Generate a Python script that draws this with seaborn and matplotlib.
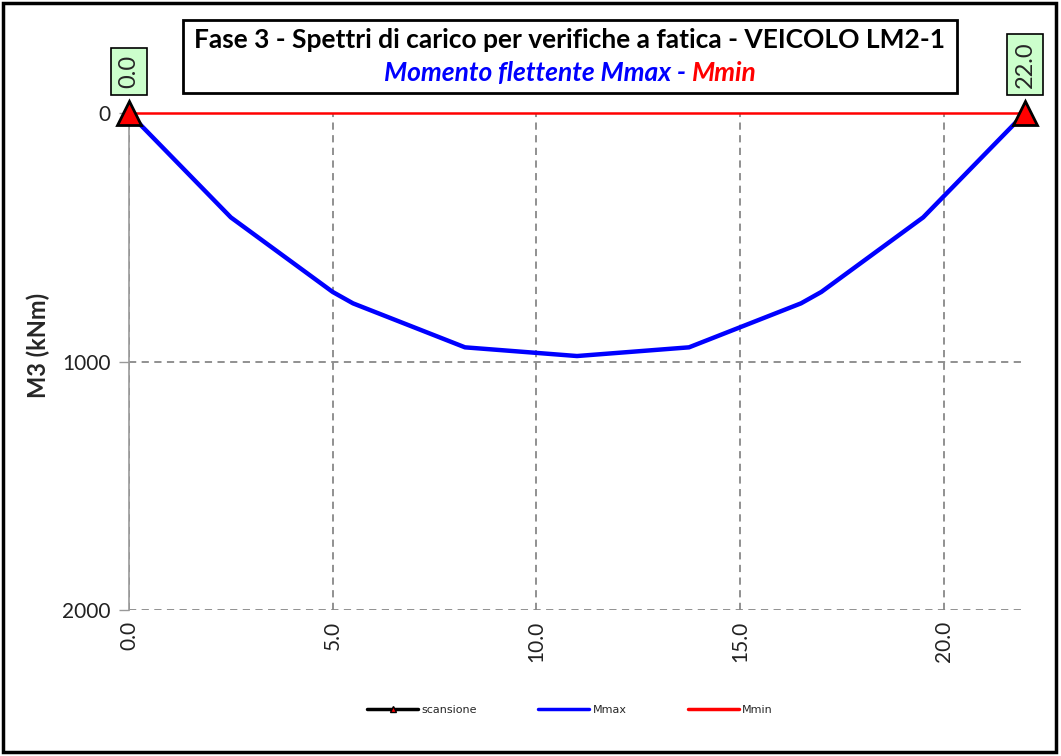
import matplotlib
matplotlib.use("Agg")
import matplotlib.pyplot as plt
from matplotlib.patches import Rectangle
from matplotlib.lines import Line2D
import seaborn as sns
import pandas as pd

# ---- data ----
x_pos = [0.0, 2.5, 5.0, 5.5, 8.25, 11.0, 13.75, 16.5, 17.0, 19.5, 22.0]
m_max = [0, 420, 720, 766, 943, 978, 943, 766, 720, 420, 0]
m_min = [0, 0, 0, 0, 0, 0, 0, 0, 0, 0, 0]
scan_x = [0.0, 22.0]
scan_y = [0, 0]
scan_labels = ["0.0", "22.0"]
x_ticks = [0, 5, 10, 15, 20]
x_ticklabels = ["0.0", "5.0", "10.0", "15.0", "20.0"]
y_ticks = [0, 1000, 2000]
y_ticklabels = ["0", "1000", "2000"]
title1 = "Fase 3 - Spettri di carico per verifiche a fatica - VEICOLO LM2-1"
title2a = "Momento flettente Mmax - "
title2b = "Mmin"
ylabel = "M3 (kNm)"
legend_labels = ["scansione", "Mmax", "Mmin"]

sns.set_style("white")
plt.rcParams['font.family'] = ['Lato', 'DejaVu Sans']

W, H = 1061, 756
fig = plt.figure(figsize=(W / 100, H / 100), dpi=100)
ax = fig.add_axes([129 / W, 1 - 610 / H, (1025 - 129) / W, (610 - 113) / H])

df = pd.DataFrame({"x": x_pos, "Mmax": m_max, "Mmin": m_min})

sns.lineplot(data=df, x="x", y="Mmax", color="#0000FF", lw=3.2, ax=ax,
             estimator=None, sort=False, zorder=4)
sns.lineplot(data=df, x="x", y="Mmin", color="#FF0000", lw=1.8, ax=ax,
             estimator=None, sort=False, zorder=5)
for ln in ax.get_lines():
    ln.set_clip_on(False)
ax.plot(scan_x, scan_y, linestyle="none", marker="^", markersize=17,
        markerfacecolor="#FF0000", markeredgecolor="black", markeredgewidth=2,
        zorder=6, clip_on=False)

for xv, lab in zip(scan_x, scan_labels):
    ax.annotate(lab, xy=(xv, 0), xytext=(0, 18), textcoords="offset points",
                rotation=90, ha="center", va="bottom", fontsize=17,
                annotation_clip=False,
                bbox=dict(boxstyle="square,pad=0.3", fc="#CCFFCC", ec="black", lw=1.2))

ax.set_xlim(0, 22)
ax.set_ylim(2000, 0)
ax.set_xticks(x_ticks)
ax.set_xticklabels(x_ticklabels, rotation=90, fontsize=15, color="#222222")
ax.set_yticks(y_ticks)
ax.set_yticklabels(y_ticklabels, fontsize=15, color="#222222")
ax.tick_params(axis="y", length=7, color="#999999", width=1, pad=6, left=True)
ax.tick_params(axis="x", length=0, pad=8)
ax.grid(True, linestyle=(0, (4, 3)), color="#888888", lw=1.3)
for s in ["top", "right", "bottom"]:
    ax.spines[s].set_visible(False)
ax.spines["left"].set_color("#999999")
ax.spines["left"].set_linewidth(1.2)
ax.set_xlabel("")
ax.set_ylabel(ylabel, fontsize=17, fontweight="bold", labelpad=4)
ax.yaxis.set_label_coords(-0.088, 0.533)

# title box
fig.patches.append(Rectangle((183 / W, 1 - 93 / H), (957 - 183) / W, (93 - 20) / H,
                             transform=fig.transFigure, fill=False, ec="black", lw=2))
fig.text(570 / W, 1 - 40 / H, title1, ha="center", va="center", fontsize=19,
         fontweight="bold", color="black")
t2a = fig.text(0, 1 - 73 / H, title2a, ha="left", va="center", fontsize=19,
               fontweight="bold", style="italic", color="#0000FF")
t2b = fig.text(0, 1 - 73 / H, title2b, ha="left", va="center", fontsize=19,
               fontweight="bold", style="italic", color="#FF0000")
fig.canvas.draw()
r = fig.canvas.get_renderer()
w1 = t2a.get_window_extent(r).width
w2 = t2b.get_window_extent(r).width
start = 570 - (w1 + w2) / 2
t2a.set_x(start / W)
t2b.set_x((start + w1) / W)

# outer border
fig.patches.append(Rectangle((3 / W, 4 / H), (1056 - 3) / W, (753 - 4) / H,
                             transform=fig.transFigure, fill=False, ec="black", lw=2.5))

# legend
handles = [
    Line2D([], [], color="black", lw=2.5, marker="^", markersize=5,
           markerfacecolor="#FF0000", markeredgecolor="black"),
    Line2D([], [], color="#0000FF", lw=2.5),
    Line2D([], [], color="#FF0000", lw=2.5),
]
fig.legend(handles, legend_labels, loc="center", bbox_to_anchor=(570 / W, 1 - 710 / H),
           ncol=3, frameon=False, handlelength=4.6, columnspacing=5.5,
           handletextpad=0.3, prop={"family": "DejaVu Sans", "size": 8})

fig.savefig("out.png", dpi=100)
